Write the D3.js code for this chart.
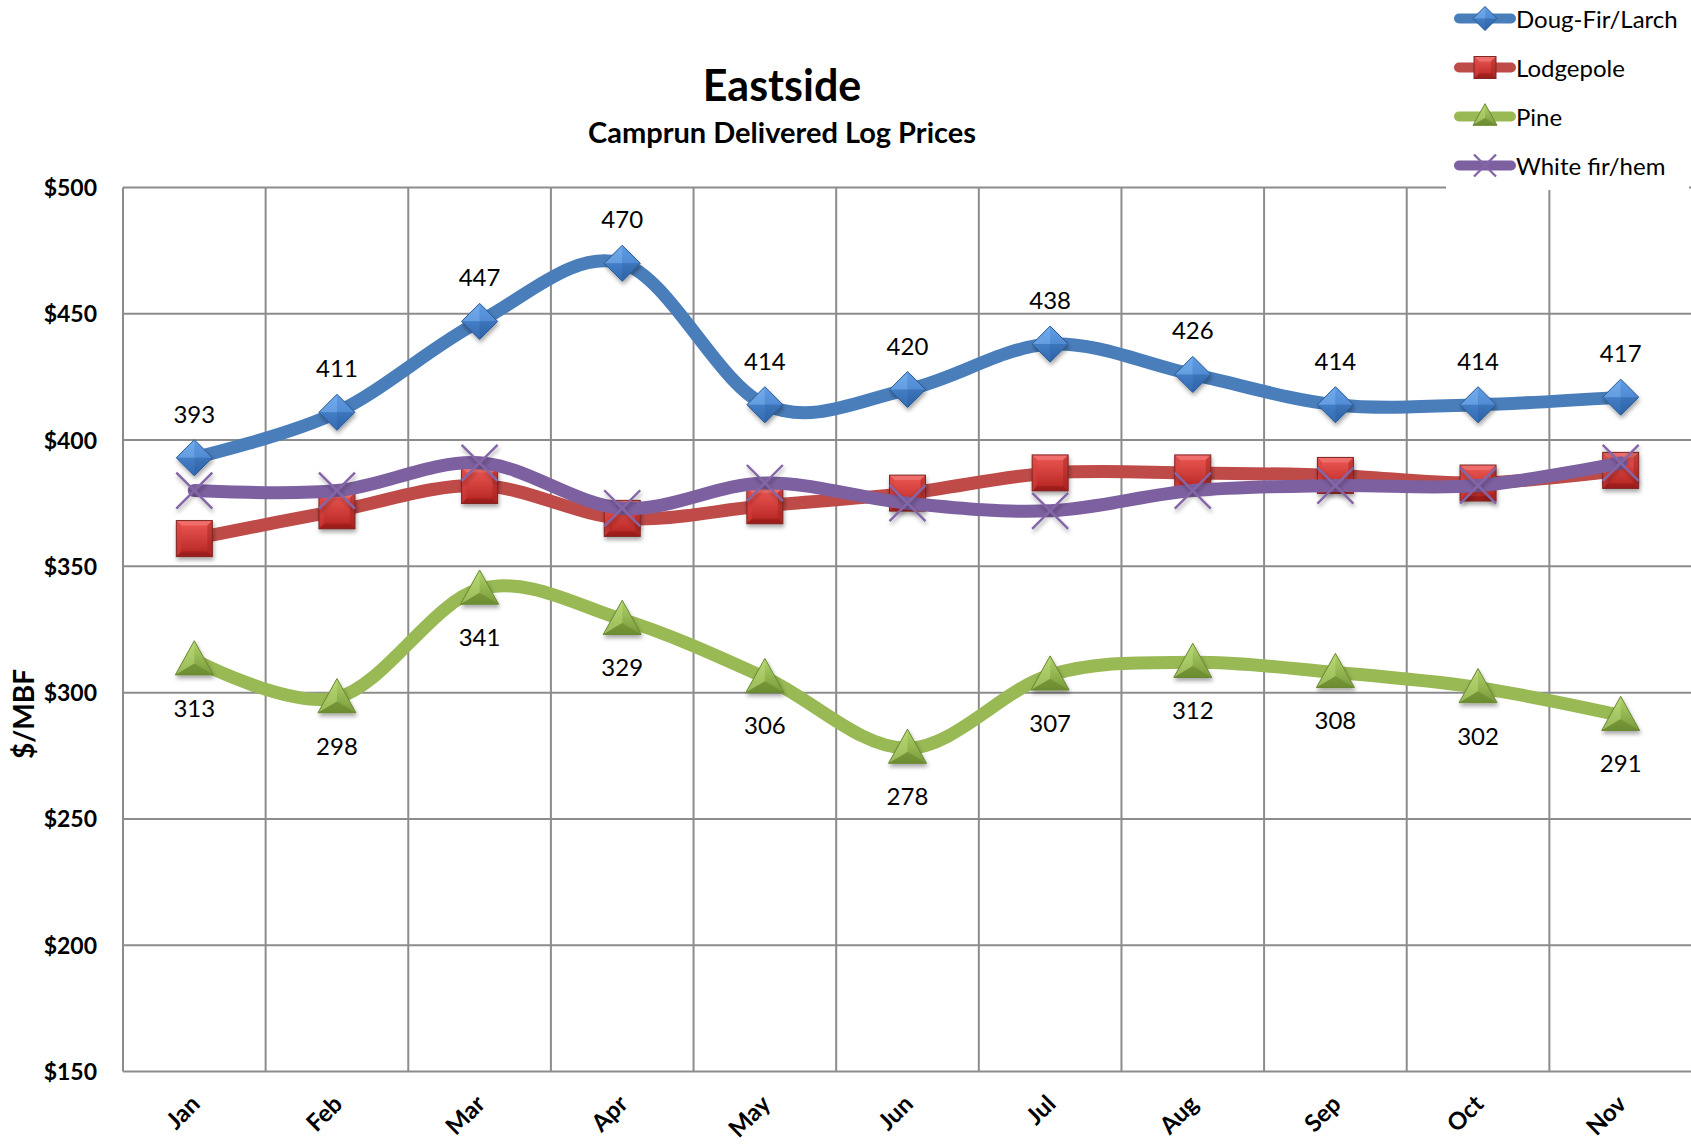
<!DOCTYPE html>
<html><head><meta charset="utf-8">
<script src="https://cdn.jsdelivr.net/npm/d3@7"></script>
<style>html,body{margin:0;padding:0;background:#fff;} svg{display:block;font-family:Lato,"Open Sans",sans-serif;}</style>
</head><body><svg id="chart" width="1691" height="1144"></svg>
<script>
// ---- data ----
const months = ["Jan","Feb","Mar","Apr","May","Jun","Jul","Aug","Sep","Oct","Nov"];
const dougFir = [393,411,447,470,414,420,438,426,414,414,417];
const lodgepole = [361,372,382,369,374,379,387,387,386,383,388];
const pine = [313,298,341,329,306,278,307,312,308,302,291];
const whiteFir = [380,380,391,373,383,375,372,380,382,382,391];
const yTicks = [150,200,250,300,350,400,450,500];
const seriesNames = ["Doug-Fir/Larch","Lodgepole","Pine","White fir/hem"];
const titleText = "Eastside";
const subtitleText = "Camprun Delivered Log Prices";
const yTitle = "$/MBF";

const svg = d3.select("#chart");
const plot = {left:123, right:1692, top:187.5, bottom:1071.5};

const x = d3.scaleBand().domain(months).range([plot.left, plot.right]).padding(0);
const cx = m => x(m) + x.bandwidth()/2;
const y = d3.scaleLinear().domain([150,500]).range([plot.bottom, plot.top]);

const defs = svg.append("defs");
const f = defs.append("filter").attr("id","shadow").attr("x","-50%").attr("y","-50%").attr("width","200%").attr("height","200%");
f.append("feDropShadow").attr("dx",1).attr("dy",3).attr("stdDeviation",2).attr("flood-color","#000").attr("flood-opacity",0.35);
function grad(id, c1, c2){
  const g = defs.append("linearGradient").attr("id",id).attr("x1",0).attr("y1",0).attr("x2",0).attr("y2",1);
  g.append("stop").attr("offset","0%").attr("stop-color",c1);
  g.append("stop").attr("offset","100%").attr("stop-color",c2);
}
grad("gBlue","#6aa5ea","#2f66ad");
grad("gRed","#ee5a56","#b3221f");
grad("gGreen","#b2d46c","#789a38");

// ---- grid ----
const grid = svg.append("g");
grid.selectAll("line.h").data(yTicks).join("line")
  .attr("x1",plot.left).attr("x2",plot.right)
  .attr("y1",d=>y(d)).attr("y2",d=>y(d))
  .attr("stroke","#8c8c8c").attr("stroke-width",2);
const vlines = months.map(m=>x(m));
grid.selectAll("line.v").data(vlines).join("line")
  .attr("x1",d=>d).attr("x2",d=>d)
  .attr("y1",plot.top).attr("y2",plot.bottom)
  .attr("stroke","#8c8c8c").attr("stroke-width",2);

// ---- axes labels ----
const yAxis = d3.axisLeft(y).tickValues(yTicks).tickSize(0).tickPadding(0).tickFormat(d=>"$"+d);
const yg = svg.append("g").attr("transform",`translate(97,0)`).call(yAxis);
yg.select(".domain").remove();
yg.selectAll("text").attr("font-family","Lato").attr("font-weight","bold").attr("font-size",23).attr("fill","#000").attr("dy","0.35em");

const xAxis = d3.axisBottom(x).tickSize(0).tickPadding(0);
const xg = svg.append("g").attr("transform",`translate(0,${plot.bottom})`).call(xAxis);
xg.select(".domain").remove();
xg.selectAll("text").attr("font-family","Lato").attr("font-weight","bold").attr("font-size",24).attr("fill","#000")
  .attr("text-anchor","end").attr("dy",0).attr("y",0)
  .attr("transform","translate(7,34) rotate(-45)");

svg.append("text").attr("transform","translate(34,714) rotate(-90)")
  .attr("text-anchor","middle").attr("font-weight","bold").attr("font-size",28).text(yTitle);

// ---- titles ----
svg.append("text").attr("x",782).attr("y",101).attr("text-anchor","middle")
  .attr("font-weight","bold").attr("font-size",43).text(titleText);
svg.append("text").attr("x",782).attr("y",143).attr("text-anchor","middle")
  .attr("font-weight","bold").attr("font-size",29).text(subtitleText);

// ---- markers ----
function drawDiamond(g, r){
  g.append("path").attr("d",`M0,${-r}L${r},0L0,${r}L${-r},0Z`).attr("fill","url(#gBlue)");
  const facets = [
    [`M0,${-r}L${-r},0L0,0Z`,"#79b0f0",0.55],
    [`M0,${-r}L${r},0L0,0Z`,"#5592dc",0.45],
    [`M${r},0L0,${r}L0,0Z`,"#2b5fa3",0.45],
    [`M${-r},0L0,${r}L0,0Z`,"#3a74bd",0.45]];
  facets.forEach(fc=>g.append("path").attr("d",fc[0]).attr("fill",fc[1]).attr("opacity",fc[2]));
  g.append("path").attr("d",`M0,${-r}L${r},0L0,${r}L${-r},0Z`).attr("fill","none").attr("stroke","#2a5a94").attr("stroke-width",1);
}
function drawSquare(g, s){
  const h = s/2, i = h-5;
  g.append("rect").attr("x",-h).attr("y",-h).attr("width",s).attr("height",s).attr("fill","url(#gRed)");
  g.append("path").attr("d",`M${-h},${-h}L${h},${-h}L${i},${-i}L${-i},${-i}Z`).attr("fill","#f07370").attr("opacity",0.8);
  g.append("path").attr("d",`M${-h},${h}L${h},${h}L${i},${i}L${-i},${i}Z`).attr("fill","#8e1b19").attr("opacity",0.6);
  g.append("path").attr("d",`M${h},${-h}L${h},${h}L${i},${i}L${i},${-i}Z`).attr("fill","#a32320").attr("opacity",0.5);
  g.append("path").attr("d",`M${-h},${-h}L${-h},${h}L${-i},${i}L${-i},${-i}Z`).attr("fill","#d8403d").attr("opacity",0.5);
  g.append("rect").attr("x",-h).attr("y",-h).attr("width",s).attr("height",s).attr("fill","none").attr("stroke","#7e2624").attr("stroke-width",1);
}
function drawTriangle(g, s){
  const hh = s*0.9;
  const p = `M0,${-hh/2-2}L${s/2},${hh/2-2}L${-s/2},${hh/2-2}Z`;
  g.append("path").attr("d",p).attr("fill","url(#gGreen)");
  g.append("path").attr("d",`M0,${-hh/2-2}L0,${hh/6-2}L${-s/2},${hh/2-2}Z`).attr("fill","#c2e07e").attr("opacity",0.45);
  g.append("path").attr("d",`M${-s/2},${hh/2-2}L0,${hh/6-2}L${s/2},${hh/2-2}Z`).attr("fill","#5f7d28").attr("opacity",0.45);
  g.append("path").attr("d",p).attr("fill","none").attr("stroke","#6b8833").attr("stroke-width",1);
}
function drawX(g, r){
  g.append("path").attr("d",`M${-r},${-r}L${r},${r}M${r},${-r}L${-r},${r}`).attr("stroke","#8466a8").attr("stroke-width",2.4).attr("fill","none");
}

const series = [
  {name:seriesNames[0], values:dougFir, color:"#4a7ebb", marker:(g,k)=>drawDiamond(g,k?12:18)},
  {name:seriesNames[1], values:lodgepole, color:"#be4b48", marker:(g,k)=>drawSquare(g,k?22:36)},
  {name:seriesNames[2], values:pine, color:"#98b954", marker:(g,k)=>drawTriangle(g,k?24:38)},
  {name:seriesNames[3], values:whiteFir, color:"#7d60a0", marker:(g,k)=>drawX(g,k?11:18)}
];

const line = d3.line().x(d=>cx(d.m)).y(d=>y(d.v)).curve(d3.curveCatmullRom.alpha(0));

series.forEach(s=>{
  const pts = months.map((m,i)=>({m, v:s.values[i]}));
  const g = svg.append("g");
  g.append("path").datum(pts).attr("d",line).attr("fill","none")
    .attr("stroke",s.color).attr("stroke-width",13).attr("stroke-linecap","round").attr("stroke-linejoin","round");
  g.selectAll("g.mk").data(pts).join("g").attr("class","mk")
    .attr("transform",d=>`translate(${cx(d.m)},${y(d.v)})`)
    .attr("filter","url(#shadow)")
    .each(function(){ s.marker(d3.select(this), false); });
});

// ---- data labels ----
const lab = svg.append("g").attr("font-size",24).attr("text-anchor","middle").attr("fill","#000");
lab.selectAll("text.df").data(months).join("text").attr("class","df")
  .attr("x",m=>cx(m)).attr("y",(m,i)=>y(dougFir[i])-35).text((m,i)=>dougFir[i]);
lab.selectAll("text.pn").data(months).join("text").attr("class","pn")
  .attr("x",m=>cx(m)).attr("y",(m,i)=>y(pine[i])+57).text((m,i)=>pine[i]);

// ---- legend ----
const leg = svg.append("g");
leg.append("rect").attr("x",1446).attr("y",0).attr("width",243).attr("height",190).attr("fill","#fff");
const legY = d3.scaleBand().domain(seriesNames).range([-6,190]);
series.forEach(s=>{
  const yy = legY(s.name) + legY.bandwidth()/2;
  const g = leg.append("g").attr("transform",`translate(0,${yy})`);
  g.append("line").attr("x1",1459).attr("x2",1511).attr("y1",0).attr("y2",0)
    .attr("stroke",s.color).attr("stroke-width",10).attr("stroke-linecap","round");
  const mg = g.append("g").attr("transform","translate(1485,0)");
  s.marker(mg, true);
  g.append("text").attr("x",1516).attr("y",9).attr("font-size",24).attr("fill","#000").text(s.name);
});
</script></body></html>
